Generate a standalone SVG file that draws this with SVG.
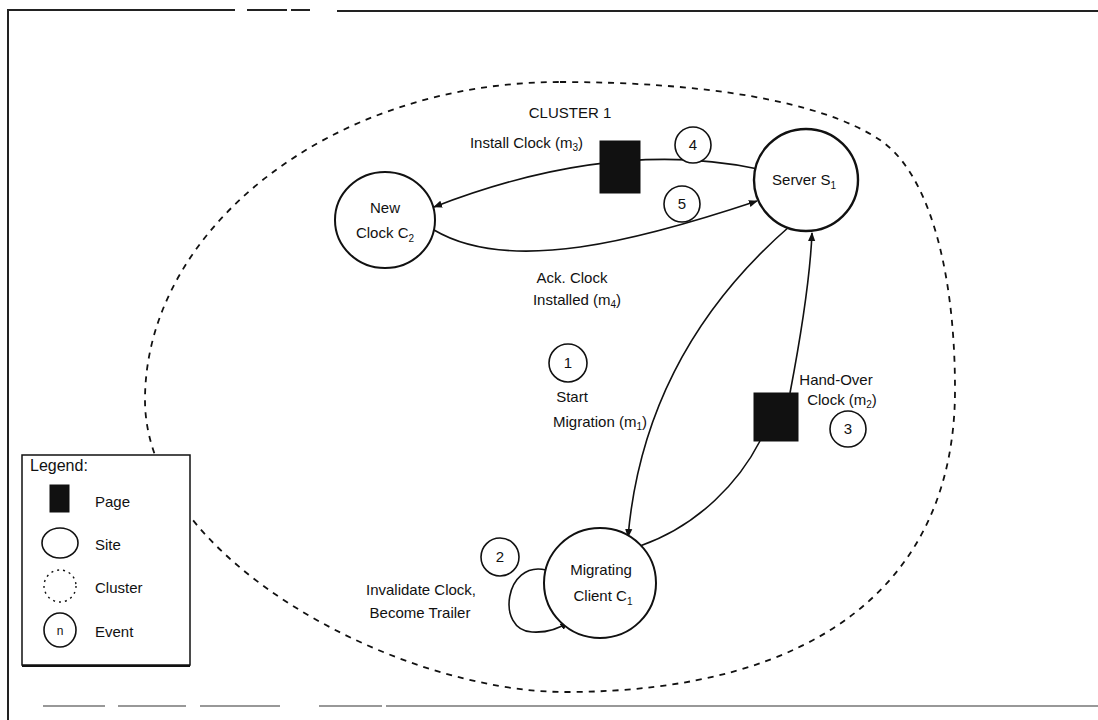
<svg xmlns="http://www.w3.org/2000/svg" width="1098" height="720" viewBox="0 0 1098 720">
  <style>
    text { font-family: "Liberation Sans", "DejaVu Sans", sans-serif; font-size: 15px; fill: #111; }
    .mid { text-anchor: middle; }
    .end { text-anchor: end; }
    .sub { font-size: 10px; }
    .site { fill: #fff; stroke: #111; stroke-width: 2; }
    .event { fill: #fff; stroke: #111; stroke-width: 1.6; }
    .page { fill: #111; stroke: #111; stroke-width: 1; }
    .edge { fill: none; stroke: #111; stroke-width: 1.6; }
    .frame { fill: none; stroke: #222; stroke-width: 2; }
  </style>
  <defs>
    <marker id="arrow" viewBox="0 0 10 10" refX="9" refY="5" markerWidth="9" markerHeight="9" orient="auto" markerUnits="userSpaceOnUse">
      <path d="M0,1 L10,5 L0,9 Z" fill="#111"/>
    </marker>
  </defs>

  <rect width="1098" height="720" fill="#fff"/>

  <!-- outer frame -->
  <g id="frame">
    <path class="frame" d="M8 720 V10 H235"/>
    <path class="frame" d="M247 10 H287 M291 10 H310 M337 11 H1098"/>
    <path d="M43 706 H105 M118 706 H186 M200 706 H280 M319 706 H382 M386 706 H1098" stroke="#777" stroke-width="1.5" fill="none"/>
  </g>

  <!-- cluster boundary -->
  <g id="cluster1">
    <path d="M560 82 C700 82 820 100 880 140 C925 170 955 260 955 390 C955 580 820 692 565 692 C400 692 145 560 145 400 C145 230 330 82 560 82 Z" fill="none" stroke="#111" stroke-width="1.8" stroke-dasharray="6 6"/>
    <text class="mid" x="570" y="118">CLUSTER 1</text>
  </g>

  <!-- connectors -->
  <g id="connectors">
    <path id="e-install" class="edge" d="M758 169 Q612 138 434 207" marker-end="url(#arrow)"/>
    <path id="e-ack" class="edge" d="M434 230 C510 275 640 240 757 201" marker-end="url(#arrow)"/>
    <path id="e-start" class="edge" d="M790 226 C705 300 640 400 628 537" marker-end="url(#arrow)"/>
    <path id="e-handover-a" class="edge" d="M640 546 C700 525 740 480 760 441"/>
    <path id="e-handover-b" class="edge" d="M790 393 C802 330 810 280 812 233" marker-end="url(#arrow)"/>
    <path id="e-self" class="edge" d="M546 570 C505 560 495 630 532 632 C550 633 560 628 568 622" marker-end="url(#arrow)"/>
  </g>

  <!-- sites -->
  <g id="node-newclock">
    <ellipse class="site" cx="385" cy="220" rx="50" ry="48"/>
    <text class="mid" x="385" y="213">New</text>
    <text class="mid" x="385" y="238">Clock C<tspan class="sub" dy="4">2</tspan></text>
  </g>
  <g id="node-server">
    <ellipse class="site" cx="806" cy="180" rx="52" ry="51" style="stroke-width:2.4"/>
    <text class="mid" x="804" y="185">Server S<tspan class="sub" dy="4">1</tspan></text>
  </g>
  <g id="node-client">
    <ellipse class="site" cx="600" cy="583" rx="56" ry="55"/>
    <text class="mid" x="601" y="575">Migrating</text>
    <text class="mid" x="603" y="601">Client C<tspan class="sub" dy="4">1</tspan></text>
  </g>

  <!-- pages -->
  <g id="page-m3">
    <rect class="page" x="600" y="141" width="40" height="52"/>
  </g>
  <g id="page-m2">
    <rect class="page" x="754" y="393" width="44" height="48"/>
  </g>

  <!-- events -->
  <g id="event-1">
    <circle class="event" cx="568" cy="363" r="19"/>
    <text class="mid" x="568" y="368">1</text>
  </g>
  <g id="event-2">
    <circle class="event" cx="500" cy="557" r="19"/>
    <text class="mid" x="500" y="562">2</text>
  </g>
  <g id="event-3">
    <circle class="event" cx="848" cy="429" r="18"/>
    <text class="mid" x="848" y="434">3</text>
  </g>
  <g id="event-4">
    <circle class="event" cx="693" cy="145" r="18"/>
    <text class="mid" x="693" y="150">4</text>
  </g>
  <g id="event-5">
    <circle class="event" cx="682" cy="204" r="18"/>
    <text class="mid" x="682" y="209">5</text>
  </g>

  <!-- message labels -->
  <g id="labels">
    <text class="end" x="583" y="148">Install Clock (m<tspan class="sub" dy="3">3</tspan><tspan dy="-3">)</tspan></text>
    <text class="mid" x="572" y="283">Ack. Clock</text>
    <text class="mid" x="577" y="305">Installed (m<tspan class="sub" dy="3">4</tspan><tspan dy="-3">)</tspan></text>
    <text class="mid" x="572" y="402">Start</text>
    <text class="mid" x="600" y="427">Migration (m<tspan class="sub" dy="3">1</tspan><tspan dy="-3">)</tspan></text>
    <text class="mid" x="836" y="385">Hand-Over</text>
    <text class="mid" x="842" y="405">Clock (m<tspan class="sub" dy="3">2</tspan><tspan dy="-3">)</tspan></text>
    <text class="mid" x="421" y="595">Invalidate Clock,</text>
    <text class="mid" x="420" y="618">Become Trailer</text>
  </g>

  <!-- legend -->
  <g id="legend">
    <rect x="22" y="455" width="168" height="210" fill="#fff" stroke="#111" stroke-width="1.5"/>
    <line x1="22" y1="666" x2="190" y2="666" stroke="#111" stroke-width="2"/>
    <text x="30" y="471" style="font-size:16px">Legend:</text>
    <rect class="page" x="50" y="485" width="19" height="27"/>
    <text x="95" y="507">Page</text>
    <ellipse cx="60" cy="543" rx="18" ry="15" fill="#fff" stroke="#111" stroke-width="1.6"/>
    <text x="95" y="550">Site</text>
    <circle cx="60" cy="586" r="16" fill="none" stroke="#111" stroke-width="1.4" stroke-dasharray="2 4"/>
    <text x="95" y="593">Cluster</text>
    <ellipse cx="60" cy="630" rx="16" ry="17" fill="#fff" stroke="#111" stroke-width="1.6"/>
    <text class="mid" x="60" y="635" style="font-size:12px">n</text>
    <text x="95" y="637">Event</text>
  </g>
</svg>
